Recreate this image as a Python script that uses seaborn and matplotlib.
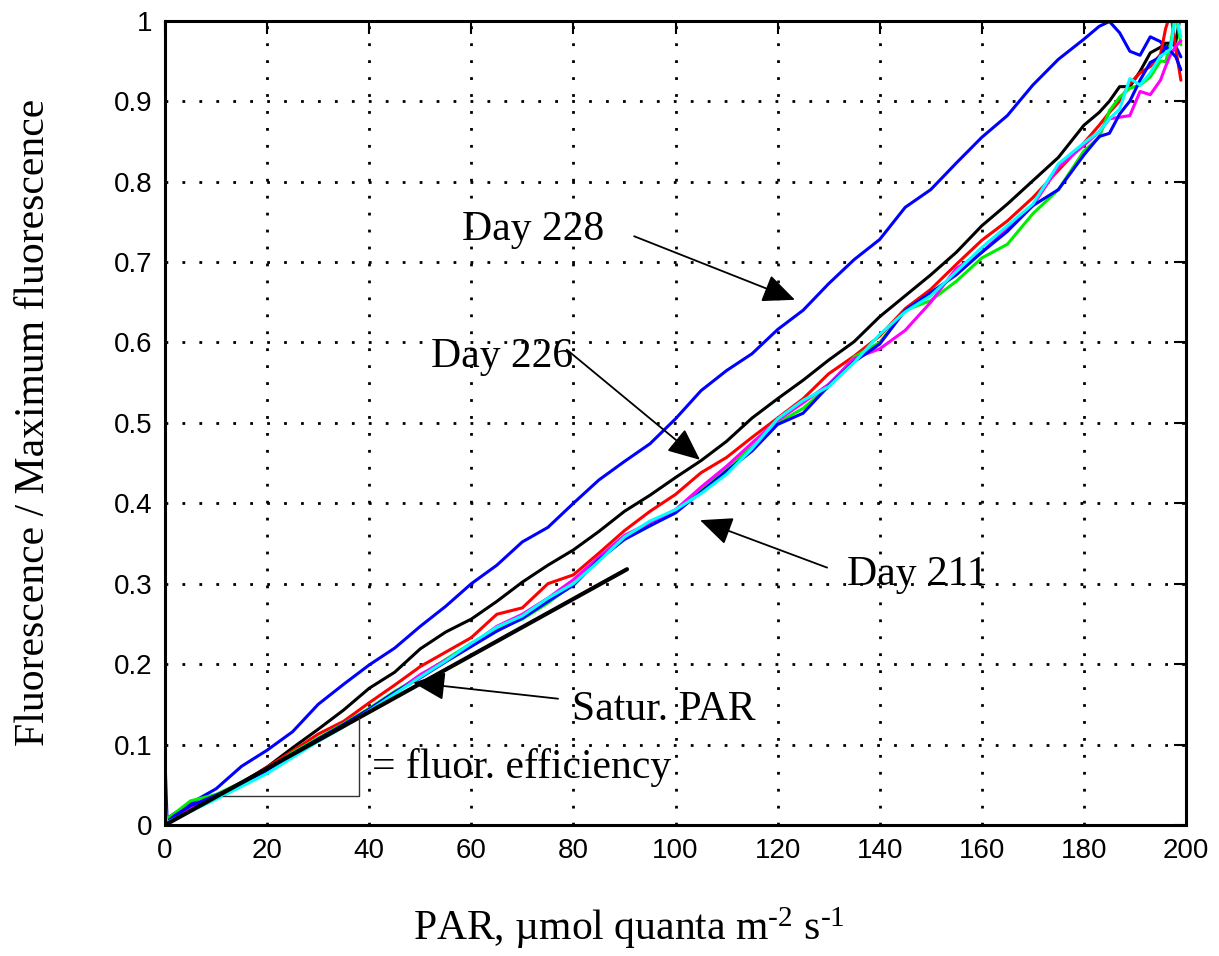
import matplotlib
matplotlib.use("Agg")
import matplotlib.pyplot as plt
import numpy as np
import pandas as pd
import seaborn as sns

# ---------------- data ----------------
par = [0, 0.4, 2, 5, 10, 15, 20, 25, 30, 35, 40, 45, 50, 55, 60, 65, 70, 75, 80,
       85, 90, 95, 100, 105, 110, 115, 120, 125, 130, 135, 140, 145, 150, 155,
       160, 165, 170, 175, 180, 183, 185, 187, 189, 191, 193, 195, 196, 197,
       198, 199]

day228 = [0.081, 0.008, 0.015, 0.027, 0.045, 0.073, 0.093, 0.116, 0.150, 0.175,
          0.199, 0.220, 0.247, 0.272, 0.300, 0.323, 0.352, 0.370, 0.400, 0.429,
          0.452, 0.474, 0.505, 0.540, 0.565, 0.586, 0.616, 0.640, 0.673, 0.703,
          0.728, 0.768, 0.790, 0.823, 0.855, 0.882, 0.920, 0.952, 0.977, 0.993,
          0.999, 0.985, 0.962, 0.957, 0.980, 0.974, 0.965, 0.972, 0.968, 0.955]

day226 = [0.002, 0.004, 0.010, 0.020, 0.036, 0.052, 0.072, 0.096, 0.119, 0.143,
          0.170, 0.190, 0.219, 0.240, 0.256, 0.278, 0.302, 0.323, 0.342, 0.365,
          0.390, 0.410, 0.432, 0.453, 0.477, 0.506, 0.530, 0.553, 0.578, 0.601,
          0.632, 0.658, 0.684, 0.712, 0.745, 0.772, 0.801, 0.830, 0.870, 0.886,
          0.900, 0.918, 0.918, 0.937, 0.960, 0.967, 0.972, 0.972, 0.974, 1.010]

red_run = [0.003, 0.005, 0.010, 0.020, 0.035, 0.052, 0.072, 0.092, 0.113, 0.129,
           0.152, 0.174, 0.197, 0.215, 0.233, 0.262, 0.270, 0.300, 0.311, 0.338,
           0.366, 0.390, 0.411, 0.438, 0.457, 0.482, 0.506, 0.530, 0.561, 0.583,
           0.608, 0.642, 0.666, 0.697, 0.727, 0.751, 0.780, 0.814, 0.848, 0.870,
           0.886, 0.900, 0.922, 0.935, 0.943, 0.958, 0.990, 1.010, 0.965, 0.926]

green_run = [0.005, 0.008, 0.015, 0.030, 0.038, 0.053, 0.068, 0.090, 0.108, 0.126,
             0.145, 0.166, 0.185, 0.206, 0.226, 0.243, 0.256, 0.276, 0.300, 0.330,
             0.356, 0.372, 0.390, 0.418, 0.443, 0.470, 0.500, 0.518, 0.545, 0.582,
             0.600, 0.640, 0.652, 0.676, 0.705, 0.722, 0.760, 0.790, 0.838, 0.855,
             0.888, 0.905, 0.916, 0.920, 0.930, 0.950, 0.949, 0.972, 1.010, 0.970]

magenta_run = [0.030, 0.003, 0.012, 0.022, 0.036, 0.050, 0.067, 0.086, 0.105, 0.124,
               0.143, 0.164, 0.187, 0.205, 0.224, 0.247, 0.262, 0.282, 0.305, 0.333,
               0.360, 0.376, 0.392, 0.420, 0.446, 0.475, 0.503, 0.525, 0.548, 0.580,
               0.592, 0.615, 0.650, 0.692, 0.712, 0.742, 0.770, 0.818, 0.845, 0.862,
               0.878, 0.880, 0.882, 0.912, 0.908, 0.926, 0.943, 0.958, 0.968, 0.975]

blue_run = [0.010, 0.004, 0.012, 0.024, 0.037, 0.051, 0.068, 0.088, 0.107, 0.125,
            0.144, 0.165, 0.183, 0.203, 0.222, 0.241, 0.257, 0.278, 0.298, 0.330,
            0.355, 0.372, 0.388, 0.414, 0.440, 0.465, 0.498, 0.512, 0.546, 0.576,
            0.598, 0.640, 0.662, 0.684, 0.712, 0.738, 0.770, 0.790, 0.833, 0.856,
            0.860, 0.884, 0.900, 0.926, 0.948, 0.955, 0.968, 0.962, 0.955, 0.939]

cyan_run = [0.015, 0.003, 0.008, 0.017, 0.032, 0.048, 0.064, 0.084, 0.104, 0.122,
            0.142, 0.163, 0.184, 0.204, 0.226, 0.246, 0.260, 0.282, 0.300, 0.328,
            0.358, 0.378, 0.392, 0.412, 0.436, 0.468, 0.505, 0.528, 0.545, 0.575,
            0.610, 0.638, 0.658, 0.688, 0.718, 0.745, 0.772, 0.822, 0.848, 0.862,
            0.878, 0.890, 0.928, 0.920, 0.935, 0.956, 0.960, 0.965, 1.010, 0.980]

series_names = ["Day 228", "Day 226", "red", "green", "magenta", "blue", "cyan"]
series_colors = ["#0000ff", "#000000", "#ff0000", "#00ee00", "#ff00ff", "#0000ff", "#00ffff"]

satur_x = [0, 90.5]
satur_y = [0, 0.318]

x_ticks = [0, 20, 40, 60, 80, 100, 120, 140, 160, 180, 200]
x_ticklabels = ["0", "20", "40", "60", "80", "100", "120", "140", "160", "180", "200"]
y_ticks = [0, 0.1, 0.2, 0.3, 0.4, 0.5, 0.6, 0.7, 0.8, 0.9, 1.0]
y_ticklabels = ["0", "0.1", "0.2", "0.3", "0.4", "0.5", "0.6", "0.7", "0.8", "0.9", "1"]

# ---------------- style ----------------
sns.set_style("white")
plt.rcParams["font.family"] = ["Liberation Sans", "DejaVu Sans"]
plt.rcParams["mathtext.fontset"] = "custom"
plt.rcParams["mathtext.rm"] = "Liberation Serif"
plt.rcParams["mathtext.it"] = "Liberation Serif:italic"
plt.rcParams["axes.edgecolor"] = "black"
plt.rcParams["text.color"] = "black"
plt.rcParams["axes.labelcolor"] = "black"
plt.rcParams["xtick.color"] = "black"
plt.rcParams["ytick.color"] = "black"

SERIF = ["Liberation Serif", "DejaVu Serif"]

fig = plt.figure(figsize=(12.19, 9.56), dpi=100)
ax = fig.add_axes([165 / 1219, 1 - 825 / 956, 1021 / 1219, 804.3 / 956])

all_series = [day228, day226, red_run, green_run, magenta_run, blue_run, cyan_run]
df = pd.DataFrame({
    "PAR": par * len(all_series),
    "F": sum(all_series, []),
    "series": np.repeat(series_names, len(par)),
})
sns.lineplot(data=df, x="PAR", y="F", hue="series", hue_order=series_names,
             palette=series_colors, estimator=None, sort=False, lw=2.2,
             legend=False, ax=ax)
sns.lineplot(x=satur_x, y=satur_y, color="black", lw=3.0, ax=ax)

# bracket (slope triangle)
ax.plot([11.4, 38.0, 38.0], [0.036, 0.036, 0.1335], color="#333333", lw=1.0)

ax.set_xlim(0, 200)
ax.set_ylim(0, 1)
ax.set_xticks(x_ticks)
ax.set_xticklabels(x_ticklabels)
ax.set_yticks(y_ticks)
ax.set_yticklabels(y_ticklabels)
ax.tick_params(direction="in", top=True, right=True, length=9, width=1.5,
               labelsize=20, colors="black", pad=9)
for s in ax.spines.values():
    s.set_visible(True)
    s.set_linewidth(2.2)
    s.set_color("black")
ax.grid(True, color="black", linestyle=(0, (1, 5.1)), linewidth=2.0)
ax.set_axisbelow(True)

ax.set_xlabel("PAR, \u00b5mol quanta m$^{\\mathregular{\u2010 2}}$ s$^{\\mathregular{\u2010 1}}$",
              family=SERIF, fontsize=30, color="black")
ax.xaxis.set_label_coords(0.454, -0.10)
ax.set_ylabel("Fluorescence / Maximum fluorescence", family=SERIF, fontsize=30,
              color="black")
ax.yaxis.set_label_coords(-0.110, 0.5)

# annotations
txt_kw = dict(family=SERIF, fontsize=30, va="baseline", ha="left", color="black")
ax.text(58.2, 0.727, "Day 228", **txt_kw)
ax.text(52.1, 0.569, "Day 226", **txt_kw)
ax.text(133.6, 0.298, "Day 211", **txt_kw)
ax.text(79.7, 0.131, "Satur. PAR", **txt_kw)
ax.text(40.5, 0.058, "= fluor. efficiency", **txt_kw)

arrow_kw = dict(arrowstyle="-|>,head_length=0.5,head_width=0.22", color="black",
                lw=1.3, shrinkA=0, shrinkB=0, mutation_scale=40)
ax.annotate("", xy=(123.4, 0.653), xytext=(91.9, 0.732), arrowprops=arrow_kw)
ax.annotate("", xy=(104.8, 0.454), xytext=(78.7, 0.591), arrowprops=arrow_kw)
ax.annotate("", xy=(104.8, 0.379), xytext=(129.7, 0.320), arrowprops=arrow_kw)
ax.annotate("", xy=(48.6, 0.177), xytext=(77.0, 0.157), arrowprops=arrow_kw)

fig.savefig("out.png", dpi=100)
